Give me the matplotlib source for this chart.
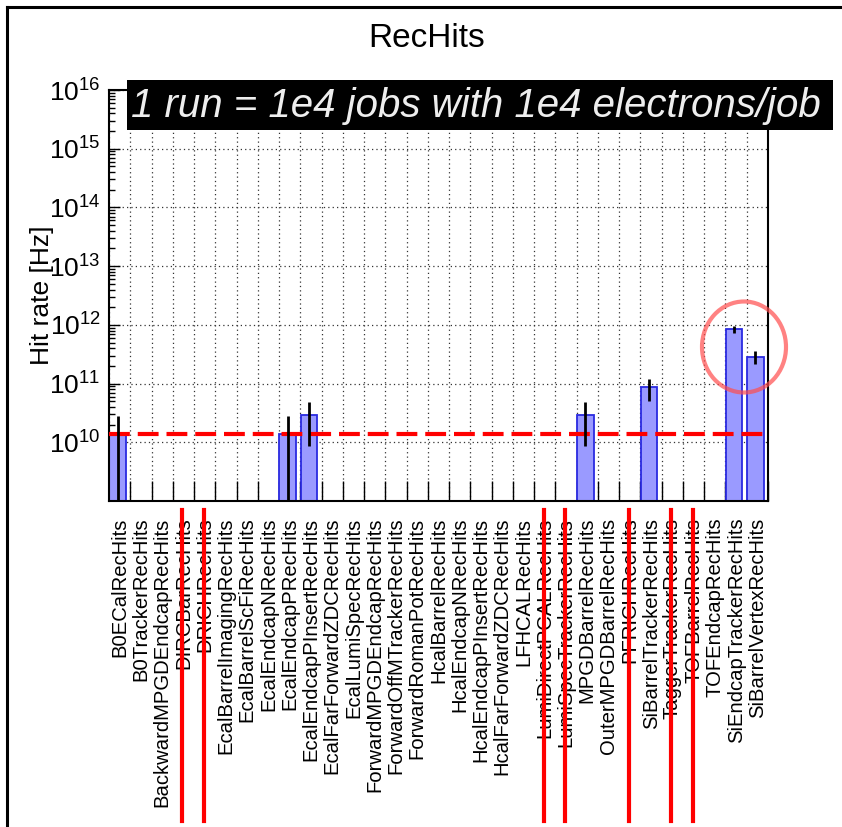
import numpy as np
import matplotlib
matplotlib.use("Agg")
import matplotlib.pyplot as plt
from matplotlib import ticker, transforms
from matplotlib.patches import Ellipse, Rectangle
from matplotlib.lines import Line2D

plt.rcParams['font.family'] = ['Liberation Sans', 'DejaVu Sans']
plt.rcParams['mathtext.fontset'] = 'custom'
plt.rcParams['mathtext.rm'] = 'Liberation Sans'

# collections on the x axis
names = ["B0ECalRecHits", "B0TrackerRecHits", "BackwardMPGDEndcapRecHits",
         "DIRCBarRecHits", "DRICHRecHits", "EcalBarrelImagingRecHits",
         "EcalBarrelScFiRecHits", "EcalEndcapNRecHits", "EcalEndcapPRecHits",
         "EcalEndcapPInsertRecHits", "EcalFarForwardZDCRecHits", "EcalLumiSpecRecHits",
         "ForwardMPGDEndcapRecHits", "ForwardOffMTrackerRecHits", "ForwardRomanPotRecHits",
         "HcalBarrelRecHits", "HcalEndcapNRecHits", "HcalEndcapPInsertRecHits",
         "HcalFarForwardZDCRecHits", "LFHCALRecHits", "LumiDirectPCALRecHits",
         "LumiSpecTrackerRecHits", "MPGDBarrelRecHits", "OuterMPGDBarrelRecHits",
         "PFRICHRecHits", "SiBarrelTrackerRecHits", "TaggerTrackerRecHits",
         "TOFBarrelRecHits", "TOFEndcapRecHits", "SiEndcapTrackerRecHits",
         "SiBarrelVertexRecHits"]

# hit rate [Hz] and its error (0 = empty bin)
rate = [1.4e10, 0, 0, 0, 0, 0, 0, 0, 1.4e10, 2.9e10, 0, 0, 0, 0, 0, 0,
        0, 0, 0, 0, 0, 0, 2.9e10, 0, 0, 8.6e10, 0, 0, 0, 8.5e11, 2.85e11]
rate_err = [1.4e10, 0, 0, 0, 0, 0, 0, 0, 1.4e10, 2.05e10, 0, 0, 0, 0, 0, 0,
            0, 0, 0, 0, 0, 0, 2.05e10, 0, 0, 3.6e10, 0, 0, 0, 1.1e11, 7.0e10]

threshold = 1.4e10
# labels crossed out by hand
struck = ["DIRCBarRecHits", "DRICHRecHits", "LumiDirectPCALRecHits",
          "LumiSpecTrackerRecHits", "PFRICHRecHits", "TaggerTrackerRecHits",
          "TOFBarrelRecHits"]
banner = "1 run = 1e4 jobs with 1e4 electrons/job"

W, H = 842, 827
fig = plt.figure(figsize=(W / 100, H / 100), dpi=100)
ax = fig.add_axes([109 / W, 1 - 501 / H, 659 / W, 411 / H])

nb = len(names)
rate = np.array(rate)
rate_err = np.array(rate_err)
filled = np.nonzero(rate)[0]
bar_off, bar_w = 0.02, 0.78

ax.bar(filled + bar_off, rate[filled], width=bar_w, align='edge',
       color='#9a9aff', edgecolor='#2a2ae0', linewidth=1.3, zorder=2)
ax.errorbar(filled + bar_off + bar_w / 2, rate[filled], yerr=rate_err[filled],
            fmt='none', ecolor='black', elinewidth=2, capsize=0, zorder=4)
ax.axhline(threshold, color='red', lw=3, dashes=(5, 1.9), zorder=3)

ax.set_yscale('log')
ax.set_ylim(1e9, 1e16)
ax.set_xlim(0, nb)

# ticks at bin edges, labels at centers
ax.set_xticks(np.arange(nb + 1))
ax.set_xticks(np.arange(nb) + 0.5, minor=True)
ax.set_xticklabels(names, minor=True, rotation=90, va='top', ha='center')
ax.tick_params(axis='x', which='major', direction='in', length=14.5, width=1,
               labelbottom=False)
ax.tick_params(axis='x', which='minor', length=0, labelsize=14.6, pad=12)

ax.yaxis.set_major_locator(ticker.FixedLocator([10.0 ** k for k in range(10, 17)]))
ax.yaxis.set_minor_locator(ticker.LogLocator(base=10, subs=np.arange(2, 10), numticks=20))
ax.yaxis.set_minor_formatter(ticker.NullFormatter())
ax.tick_params(axis='y', which='major', direction='in', length=8, width=1,
               labelsize=19, pad=6)
ax.tick_params(axis='y', which='minor', direction='in', length=4.5, width=1)

ax.grid(True, which='major', linestyle=(0, (1, 2.5)), color='#333333', lw=0.9)
for s in ax.spines.values():
    s.set_linewidth(1.5)

ax.set_ylabel('Hit rate [Hz]', fontsize=19)
ax.yaxis.set_label_coords(-0.083, 0.5)

fig.text(427 / W, 1 - 47 / H, 'RecHits', ha='center', va='baseline', fontsize=24)

# banner
fig.add_artist(Rectangle((127 / W, 1 - 130 / H), 706 / W, 50 / H,
                         transform=fig.transFigure, facecolor='black',
                         edgecolor='none', zorder=5))
fig.text(131 / W, 1 - 106 / H, banner, ha='left', va='center', color='#eeeeee',
         style='italic', fontsize=29, zorder=6)

# annotations
fig.add_artist(Ellipse((744 / W, 1 - 347 / H), 84 / W, 91 / H,
                       transform=fig.transFigure, fill=False,
                       edgecolor=(1, 0.3, 0.3, 0.7), lw=3, zorder=6))
blend = transforms.blended_transform_factory(ax.transData, fig.transFigure)
for nm in struck:
    k = names.index(nm)
    fig.add_artist(Line2D([k + 0.45, k + 0.45], [1 - 510 / H, 1 - 821 / H],
                          transform=blend, color='red', lw=3, zorder=6))

# outer frame
fig.add_artist(Line2D([7 / W, 1], [1 - 7 / H, 1 - 7 / H],
                      transform=fig.transFigure, color='black', lw=2.2))
fig.add_artist(Line2D([7 / W, 7 / W], [0, 1 - 7 / H],
                      transform=fig.transFigure, color='black', lw=2.2))

fig.savefig('out.png', dpi=100)
